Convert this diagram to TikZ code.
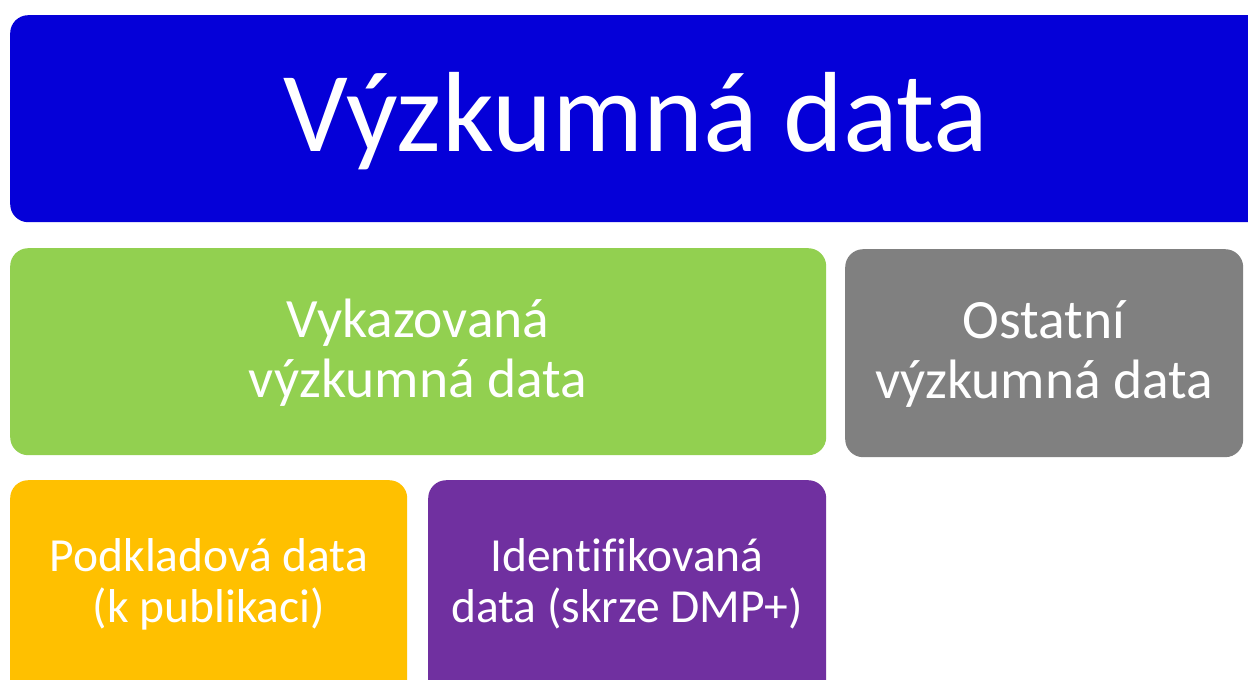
\documentclass[tikz,border=0pt]{standalone}
\usepackage{fontspec}
\setmainfont{Carlito}[Ligatures=NoCommon]
\definecolor{cblue}{HTML}{0500D8}
\definecolor{cgreen}{HTML}{92D050}
\definecolor{cgray}{HTML}{808080}
\definecolor{cyellow}{HTML}{FFC000}
\definecolor{cpurple}{HTML}{7030A0}
\tikzset{
  box/.style={draw=none, rounded corners=18pt, inner sep=0pt, anchor=north west},
  lbl/.style={text=white, anchor=base, inner sep=0pt},
  big/.style={lbl, font=\fontsize{114}{136}\selectfont},
  mid/.style={lbl, font=\fontsize{55.5}{66}\selectfont},
  sml/.style={lbl, font=\fontsize{47.5}{57}\selectfont},
}
\begin{document}
\begin{tikzpicture}[x=1pt,y=-1pt]
\useasboundingbox (0,0) rectangle (1248,680);
\clip (0,0) rectangle (1248,680);
\fill[white] (0,0) rectangle (1248,680);
\node[box, fill=cblue, minimum width=1270pt, minimum height=207pt] (top) at (10,15) {};
\node[box, fill=cgreen, minimum width=816pt, minimum height=207pt] (green) at (10,248) {};
\node[box, fill=cgray, minimum width=398pt, minimum height=208pt] (gray) at (845,249) {};
\node[box, fill=cyellow, minimum width=397pt, minimum height=230pt] (yellow) at (10,480) {};
\node[box, fill=cpurple, minimum width=398pt, minimum height=230pt] (purple) at (428,480) {};
\node[big] (t1) at (636,151) {Výzkumná data};
\node[mid] (g1) at (418,337) {Vykazovaná};
\node[mid] (g2) at (418,397) {výzkumná data};
\node[mid] (o1) at (1044,338) {Ostatní};
\node[mid] (o2) at (1044,398) {výzkumná data};
\node[sml] (y1) at (209,571) {Podkladová data};
\node[sml] (y2) at (209,622) {(k publikaci)};
\node[sml] (p1) at (627,571) {Identifikovaná};
\node[sml] (p2) at (627,622) {data (skrze DMP+)};
\end{tikzpicture}
\end{document}
